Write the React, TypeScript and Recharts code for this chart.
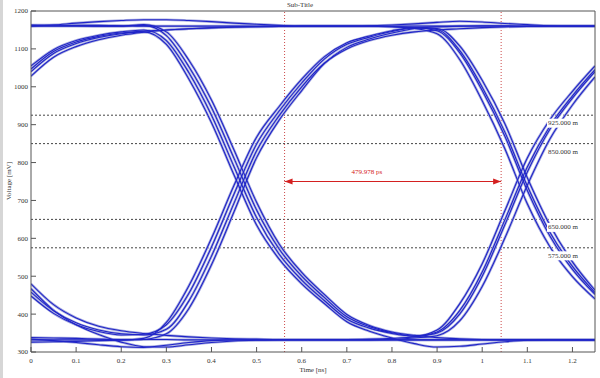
import { LineChart, Line, XAxis, YAxis, ReferenceLine } from 'recharts'

// time grid [ns]
const TIME = [
  0, 0.05, 0.1, 0.15, 0.2, 0.25, 0.3, 0.35, 0.4, 0.45, 0.5, 0.55, 0.6, 0.65, 0.7, 0.75, 0.8, 0.85, 0.9, 0.95,
  1.0, 1.05, 1.1, 1.15, 1.2, 1.25,
]

// one array per bit pattern, voltage in mV
const P0000 = [338, 337, 336, 334, 333, 333, 333, 332, 332, 332, 332, 332, 332, 332, 332, 332, 332, 332, 332, 332, 332, 332, 332, 332, 332, 332]
const P0001 = [334, 330, 325, 319, 314, 312, 318, 325, 330, 332, 332, 332, 332, 332, 332, 332, 333, 337, 343, 382, 473, 600, 740, 862, 952, 1026]
const P0010 = [332, 332, 332, 332, 332, 336, 378, 475, 600, 740, 867, 948, 1020, 1079, 1116, 1134, 1148, 1156, 1148, 1090, 990, 870, 726, 606, 518, 452]
const P0011 = [326, 327, 328, 330, 331, 333, 348, 415, 530, 670, 813, 912, 990, 1061, 1104, 1126, 1142, 1154, 1158, 1160, 1161, 1161, 1160, 1160, 1160, 1160]
const P0100 = [1040, 1088, 1114, 1130, 1140, 1145, 1112, 1020, 905, 767, 635, 545, 480, 428, 380, 355, 337, 322, 313, 315, 321, 327, 331, 332, 332, 332]
const P0101 = [1055, 1098, 1122, 1136, 1145, 1150, 1122, 1037, 925, 789, 655, 558, 490, 436, 387, 363, 349, 342, 358, 427, 533, 672, 812, 913, 988, 1055]
const P0110 = [1028, 1078, 1106, 1124, 1136, 1144, 1150, 1153, 1155, 1157, 1158, 1159, 1160, 1160, 1160, 1160, 1158, 1154, 1140, 1072, 963, 837, 691, 578, 499, 440]
const P0111 = [1047, 1093, 1118, 1133, 1142, 1147, 1150, 1153, 1156, 1158, 1159, 1160, 1160, 1160, 1160, 1161, 1163, 1166, 1170, 1173, 1171, 1167, 1164, 1161, 1160, 1160]
const P1000 = [467, 410, 372, 346, 326, 314, 313, 319, 325, 329, 331, 332, 332, 332, 332, 332, 332, 332, 332, 332, 332, 332, 332, 332, 332, 332]
const P1001 = [480, 425, 390, 368, 356, 349, 344, 340, 337, 335, 334, 333, 333, 333, 333, 334, 336, 340, 350, 400, 500, 635, 775, 888, 970, 1040]
const P1010 = [448, 402, 372, 354, 345, 347, 372, 455, 577, 717, 849, 936, 1010, 1073, 1112, 1131, 1146, 1155, 1154, 1108, 1017, 903, 760, 635, 538, 463]
const P1011 = [458, 409, 377, 358, 348, 345, 360, 435, 553, 693, 831, 924, 1000, 1062, 1100, 1122, 1136, 1145, 1150, 1153, 1156, 1158, 1159, 1160, 1160, 1160]
const P1100 = [1160, 1160, 1160, 1160, 1160, 1164, 1145, 1070, 965, 833, 695, 585, 510, 452, 399, 370, 353, 344, 338, 335, 333, 332, 332, 332, 332, 332]
const P1101 = [1162, 1161, 1161, 1160, 1160, 1162, 1135, 1053, 945, 811, 675, 572, 500, 444, 393, 367, 351, 342, 353, 409, 511, 648, 788, 896, 976, 1045]
const P1110 = [1160, 1163, 1168, 1172, 1175, 1177, 1177, 1175, 1172, 1168, 1165, 1162, 1160, 1160, 1160, 1160, 1159, 1156, 1151, 1096, 999, 881, 738, 616, 526, 457]
const P1111 = [1163, 1163, 1162, 1162, 1161, 1160, 1160, 1160, 1160, 1160, 1160, 1160, 1160, 1160, 1160, 1160, 1160, 1160, 1160, 1160, 1160, 1160, 1160, 1160, 1160, 1160]

const TRACES = [P0000, P0001, P0010, P0011, P0100, P0101, P0110, P0111, P1000, P1001, P1010, P1011, P1100, P1101, P1110, P1111]

const X_TICKS = [0, 0.1, 0.2, 0.3, 0.4, 0.5, 0.6, 0.7, 0.8, 0.9, 1.0, 1.1, 1.2]
const Y_TICKS = [300, 400, 500, 600, 700, 800, 900, 1000, 1100, 1200]
const X_MINOR = Array.from({ length: 76 }, (_, i) => i / 60)
const Y_MINOR = Array.from({ length: 46 }, (_, i) => 300 + i * 20)
const Y_RIGHT = Array.from({ length: 19 }, (_, i) => 300 + i * 50)

const LEVELS = [925, 850, 650, 575]
const LEVEL_LABELS = ['925.000 m', '850.000 m', '650.000 m', '575.000 m']
const MARKERS = [0.562, 1.042]
const MARKER_LEVEL = 750
const MARKER_LABEL = '479.978 ps'

const FONT = '"Liberation Serif", "DejaVu Serif", serif'
const AXIS = '#555'

const rows = TIME.map((t, i) => {
  const row: Record<string, number> = { t }
  TRACES.forEach((tr, k) => (row[`s${k}`] = tr[i]))
  return row
})

const levelLabel = (text: string) => (props: any) => {
  const { viewBox } = props
  const x = viewBox.x + viewBox.width - 47
  const y = viewBox.y + 8
  return (
    <g>
      <rect x={x - 1} y={y - 4.5} width={31} height={9} fill="#fff" />
      <text x={x} y={y} fontSize={7} fontFamily={FONT} fill="#333" dominantBaseline="central">
        {text}
      </text>
    </g>
  )
}

const arrowShape = (p: any) => {
  const { x1, y1, x2, y2 } = p
  const c = '#d42020'
  return (
    <g>
      <line x1={x1} y1={y1} x2={x2} y2={y2} stroke={c} strokeWidth={1} />
      <path d={`M${x1},${y1} L${x1 + 8},${y1 - 3} L${x1 + 8},${y1 + 3} Z`} fill={c} />
      <path d={`M${x2},${y2} L${x2 - 8},${y2 - 3} L${x2 - 8},${y2 + 3} Z`} fill={c} />
      <text x={x1 + (x2 - x1) * 0.38} y={y1 - 8} fontSize={7} fontFamily={FONT} fill={c} textAnchor="middle">
        {MARKER_LABEL}
      </text>
    </g>
  )
}

const fmtX = (v: number) => String(+v.toFixed(1))

export default function App() {
  const tickText = { fontSize: 7, fill: '#333', fontFamily: FONT }
  return (
    <div style={{ position: 'absolute', left: 0, top: 0, width: 600, height: 378, background: '#fff', fontFamily: FONT }}>
      <div style={{ position: 'absolute', left: 0, top: 0, width: 3, height: 378, background: '#d6d6d6' }} />
      <div style={{ position: 'absolute', left: 0, top: 0, width: 600, textAlign: 'center', fontSize: 7, lineHeight: '10px', color: '#333' }}>
        Sub-Title
      </div>
      <div style={{ position: 'absolute', left: 313, top: 366, transform: 'translateX(-50%)', fontSize: 7, color: '#333', whiteSpace: 'nowrap' }}>
        Time [ns]
      </div>
      <div
        style={{
          position: 'absolute',
          left: 9,
          top: 181,
          transform: 'translate(-50%, -50%) rotate(-90deg)',
          fontSize: 7,
          color: '#333',
          whiteSpace: 'nowrap',
        }}
      >
        Voltage [mV]
      </div>
      <LineChart width={600} height={378} data={rows} margin={{ top: 10, right: 4, bottom: 24, left: 29 }} style={{ position: 'absolute', left: 0, top: 0 }}>
        <XAxis xAxisId="b" type="number" dataKey="t" domain={[0, 1.25]} allowDataOverflow ticks={X_TICKS} interval={0} tickFormatter={fmtX} height={1} tickSize={-5} tickMargin={11} tick={tickText} axisLine={{ stroke: AXIS }} tickLine={{ stroke: AXIS }} />
        <XAxis xAxisId="bm" type="number" domain={[0, 1.25]} allowDataOverflow ticks={X_MINOR} interval={0} height={1} tickSize={-3} tick={false} axisLine={false} tickLine={{ stroke: AXIS }} />
        <XAxis xAxisId="t" orientation="top" type="number" domain={[0, 1.25]} allowDataOverflow ticks={X_TICKS} interval={0} height={1} tickSize={-5} tick={false} axisLine={{ stroke: AXIS }} tickLine={{ stroke: AXIS }} />
        <YAxis yAxisId="l" type="number" domain={[300, 1200]} allowDataOverflow ticks={Y_TICKS} interval={0} width={1} tickSize={-5} tickMargin={8} tick={tickText} axisLine={{ stroke: AXIS }} tickLine={{ stroke: AXIS }} />
        <YAxis yAxisId="lm" type="number" domain={[300, 1200]} allowDataOverflow ticks={Y_MINOR} interval={0} width={1} tickSize={-3} tick={false} axisLine={false} tickLine={{ stroke: AXIS }} />
        <YAxis yAxisId="r" orientation="right" type="number" domain={[300, 1200]} allowDataOverflow ticks={Y_RIGHT} interval={0} width={1} tickSize={-3} tick={false} axisLine={{ stroke: AXIS }} tickLine={{ stroke: AXIS }} />

        {LEVELS.map((lv) => (
          <ReferenceLine key={`lv${lv}`} xAxisId="b" yAxisId="l" y={lv} stroke="#444" strokeDasharray="2 2" />
        ))}
        {MARKERS.map((m) => (
          <ReferenceLine key={`mk${m}`} xAxisId="b" yAxisId="l" x={m} stroke="#cc4a4a" strokeDasharray="1 2" />
        ))}

        {TRACES.map((_, k) => (
          <Line key={`h${k}`} xAxisId="b" yAxisId="l" dataKey={`s${k}`} type="monotone" stroke="#a9addf" strokeWidth={2.6} dot={false} activeDot={false} isAnimationActive={false} />
        ))}
        {TRACES.map((_, k) => (
          <Line key={`c${k}`} xAxisId="b" yAxisId="l" dataKey={`s${k}`} type="monotone" stroke="#1f24c8" strokeWidth={1.1} dot={false} activeDot={false} isAnimationActive={false} />
        ))}

        {LEVELS.map((lv, i) => (
          <ReferenceLine key={`lb${lv}`} xAxisId="b" yAxisId="l" y={lv} stroke="none" label={{ content: levelLabel(LEVEL_LABELS[i]) } as any} />
        ))}
        <ReferenceLine
          xAxisId="b"
          yAxisId="l"
          segment={[
            { x: MARKERS[0], y: MARKER_LEVEL },
            { x: MARKERS[1], y: MARKER_LEVEL },
          ]}
          shape={arrowShape}
        />
      </LineChart>
    </div>
  )
}
